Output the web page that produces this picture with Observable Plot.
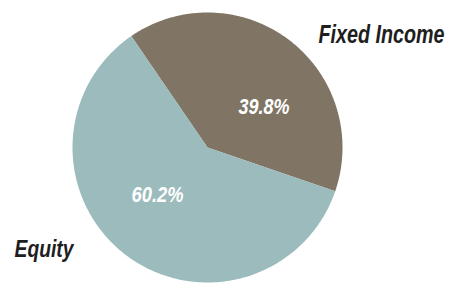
<!DOCTYPE html>
<html>
<head>
<meta charset="utf-8">
<script src="https://cdn.jsdelivr.net/npm/d3@7"></script>
<script src="https://cdn.jsdelivr.net/npm/@observablehq/plot@0.6"></script>
<style>
  html, body { margin: 0; padding: 0; background: #fff; }
</style>
</head>
<body>
<div id="chart"></div>
<script>
const categories = ["Fixed Income", "Equity"];
const values = [39.8, 60.2];
const valueLabels = ["39.8%", "60.2%"];
const colors = ["#807565", "#9bbbbc"];

// layout config
const W = 449, H = 284;
const cx = 207, cy = 147, R = 135;
const startDeg = -34.4;
const font = "'Liberation Sans', Arial, sans-serif";

const total = d3.sum(values);
const slices = [];
let acc = startDeg * Math.PI / 180;
categories.forEach((c, i) => {
  const a0 = acc, a1 = acc + values[i] / total * 2 * Math.PI;
  acc = a1;
  slices.push({ category: c, value: values[i], label: valueLabels[i], a0, a1 });
});

// polygon points per slice (angles from data)
const pts = [];
slices.forEach(s => {
  pts.push({ category: s.category, x: 0, y: 0 });
  const n = 200;
  for (let k = 0; k <= n; k++) {
    const a = s.a0 + (s.a1 - s.a0) * k / n;
    pts.push({ category: s.category, x: Math.sin(a), y: Math.cos(a) });
  }
  pts.push({ category: s.category, x: 0, y: 0 });
});

// inner label placement (pixel layout converted to units)
const innerPx = [[263.5, 106], [157, 194.5]];
const innerW = [51, 52];
const inner = slices.map((s, i) => ({
  label: s.label,
  x: (innerPx[i][0] - cx) / R,
  y: (cy - innerPx[i][1]) / R
}));

// outer category label anchor positions: Fixed Income by its right end, Equity by its left end
const outerPx = [[444, 34], [14, 249.5]];
const outerAnchor = ["end", "start"];
const outerW = [126, 59];
const outerSize = [25, 23];
const outer = slices.map((s, i) => ({
  label: s.category,
  x: (outerPx[i][0] - cx) / R,
  y: (cy - outerPx[i][1]) / R,
  size: outerSize[i],
  anchor: outerAnchor[i]
}));

const outerMark = anchor => Plot.text(outer.filter(d => d.anchor === anchor), {
  x: "x", y: "y", text: "label", fill: "#1e1e1e", fontSize: d => d.size,
  fontStyle: "italic", fontWeight: "bold", fontFamily: font, textAnchor: anchor
});

const chart = Plot.plot({
  width: W,
  height: H,
  margin: 0,
  x: { domain: [-cx / R, (W - cx) / R], axis: null },
  y: { domain: [-(H - cy) / R, cy / R], axis: null },
  color: { domain: categories, range: colors },
  style: { background: "#fff" },
  marks: [
    Plot.line(pts, { x: "x", y: "y", z: "category", fill: "category", stroke: "none", curve: "linear" }),
    Plot.text(inner, { x: "x", y: "y", text: "label", fill: "#fff", fontSize: 22.5, fontStyle: "italic", fontWeight: "bold", fontFamily: font, textAnchor: "middle" }),
    outerMark("end"),
    outerMark("start")
  ]
});

// condense the type to match the narrow typeface
const widthByText = {};
valueLabels.forEach((t, i) => widthByText[t] = innerW[i]);
categories.forEach((t, i) => widthByText[t] = outerW[i]);
chart.querySelectorAll("text").forEach(t => {
  const w = widthByText[t.textContent];
  if (w) {
    t.setAttribute("textLength", w);
    t.setAttribute("lengthAdjust", "spacingAndGlyphs");
  }
});
document.getElementById("chart").appendChild(chart);
</script>
</body>
</html>
